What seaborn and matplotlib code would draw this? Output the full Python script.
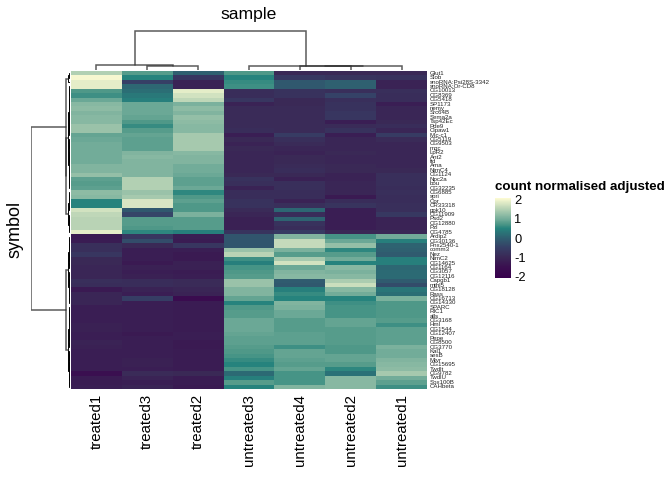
import numpy as np
import pandas as pd
import matplotlib
matplotlib.use('Agg')
import matplotlib.pyplot as plt
from matplotlib.colors import LinearSegmentedColormap, Normalize
from matplotlib.cm import ScalarMappable
import seaborn as sns

samples = ['treated1', 'treated3', 'treated2', 'untreated3', 'untreated4', 'untreated2', 'untreated1']

symbols = ['Glut1', 'Slob', 'snoRNA:Psi28S-3342', 'snoRNA:Or-CD8', 'CG10013', 'CG8369', 'CG5418', 'SP1173',
           'nemy', 'Src64B', 'Sema2a', 'Tsp42Ec', 'Pde9', 'Cipaw1', 'Mlc-c1', 'CG5119', 'CG9503', 'mgc',
           'LpR2', 'Ant2', 'fid', 'Ama', 'NimC4', 'CG1124', 'Npc2a', 'bou', 'CG32235', 'CG6885', 'spri',
           'Cpr', 'CR33318', 'ppk10', 'CG11909', 'Psd2', 'CG12880', 'Pzl', 'CG4785',
           'Ardip2', 'CG30136', 'Pnx2540-1', 'comm3', 'Nez', 'NimC2', 'CG14625', 'CG1164', 'CG3057',
           'CG12116', 'Capgb1', 'mthl5', 'CG18128', 'Rass', 'CG16713', 'CG14330', 'SPARC', 'RIC1', 'alls',
           'CG3168', 'Hml', 'CG1544', 'CG12407', 'Pepe', 'CG8500', 'CG3770', 'Kal1', 'sesB', 'Mtvr',
           'CG15695', 'Twdlt', 'CG9782', 'TwdlU', 'Sox100B', 'CAHbeta']

treated1 = [1.5, 2.05, 1.9, 1.9, .75, .65, .95, 1.15, 1.2, 1.1, 1.15, 1.15, 1.3, 1.3, .9, .95, 1.0, 1.0,
            1.0, 1.0, 1.0, 1.1, 1.1, 1.25, .85, .8, .85, 1.2, 1.15, .5, .5, 1.75, 1.6, 1.55, 1.55, 1.55, 1.9,
            -1.3, -1.25, -.85, -.85, -.7, -1.0, -1.0, -1.05, -1.05, -1.05, -.85, -.9, -1.3, -1.05, -1.05,
            -1.05, -1.2, -1.2, -1.2, -1.2, -1.15, -1.15, -1.2, -1.2, -1.1, -1.15, -1.2, -1.2, -1.2, -1.2,
            -1.2, -1.55, -1.25, -1.25, -1.2]
treated3 = [.8, .5, -.5, .1, .2, .35, .45, .95, .95, .95, .9, .75, .6, .8, .9, .85, .85, .85,
            1.1, 1.15, 1.1, 1.1, 1.1, 1.1, 1.5, 1.5, 1.5, 1.3, 1.4, 1.8, 1.8, -.1, -.4, .8, .8, .75, .55,
            -.7, -.3, -1.0, -1.2, -1.2, -1.2, -1.3, -1.15, -1.2, -1.15, -.9, -.9, -1.1, -1.2, -.55,
            -1.2, -1.2, -1.2, -1.2, -1.2, -1.2, -1.2, -1.3, -1.2, -1.2, -1.2, -1.2, -1.2, -1.15, -1.15,
            -1.2, -.95, -1.1, -1.2, -1.1]
treated2 = [0.0, -.7, -1.1, -1.1, 1.9, 1.75, 1.6, 1.05, 1.2, 1.1, 1.25, 1.2, 1.15, 1.15, 1.4, 1.4, 1.4, 1.4,
            1.15, 1.1, 1.1, 1.0, 1.0, .95, .85, .85, .95, .55, .75, .85, .75, .75, 1.05, .8, .8, .8, .45,
            -1.2, -1.25, -.7, -1.2, -1.3, -1.3, -1.15, -1.15, -1.25, -1.2, -.95, -.95, -1.05, -1.1, -1.65,
            -1.25, -1.25, -1.25, -1.25, -1.25, -1.25, -1.25, -1.2, -1.2, -1.3, -1.3, -1.25, -1.25, -1.25, -1.25,
            -1.25, -1.0, -1.25, -1.25, -1.3]
untreated3 = [.75, .5, .6, .65, -.9, -.9, -.7, -1.1, -.95, -.95, -.95, -.95, -.95, -.9, -1.2, -1.0, -1.1, -1.0,
              -1.05, -1.05, -1.05, -1.05, -1.05, -1.0, -.8, -.85, -1.1, -.9, -.9, -.8, -.8, -.95, -1.05, -1.15, -1.15, -1.15, -.75,
              -.15, -.15, -.15, 1.3, 1.55, .65, .45, .7, .75, .8, 1.3, 1.3, 1.1, 1.1, .9,
              .5, .75, .8, .8, .95, .95, .95, .9, .85, .85, .8, .75, .7, .6, .5,
              .7, .15, .45, .8, .5]
untreated4 = [-1.0, -.65, -.1, -.1, -.8, -.8, -1.0, -1.0, -.95, -.95, -.95, -.95, -.95, -.95, -.6, -.85, -.95, -1.05,
              -1.1, -1.0, -1.0, -.95, -.9, -1.0, -1.15, -.85, -.85, -.9, -.9, -1.1, -.85, .1, -.9, .05, -.8, -.9, -.6,
              1.1, 1.65, 1.65, 1.05, .8, 1.4, 1.75, .95, 1.1, 1.15, -.05, -.1, .45, .6, .5,
              1.1, 1.05, .95, .95, .8, .8, .8, .85, .85, .85, .65, .9, .9, .85, .8,
              .9, .7, .7, .7, 1.1]
untreated2 = [-1.0, -.75, 0.0, 0.0, -.85, -.45, -.85, -.8, -.8, -.7, -.7, -1.2, -.95, -.8, -1.2, -1.05, -1.05, -1.05,
              -1.0, -1.05, -1.05, -1.0, -1.0, -1.1, -1.1, -1.05, -1.05, -1.05, -1.3, -.9, -.75, -1.2, -1.2, -1.2, -1.2, -1.2, -1.0,
              .7, .95, 1.25, .55, .8, 1.0, .5, 1.15, 1.05, 1.15, 1.45, 1.7, 1.15, 1.0, .5,
              .65, .7, .7, .7, .9, .9, .8, .8, .8, .8, .75, .75, .9, .9, .8,
              .55, .25, 1.15, 1.15, 1.15]
untreated1 = [-1.0, -.8, -1.1, -1.1, -.85, -.9, -.9, -1.2, -1.05, -1.05, -1.05, -1.0, -.9, -1.05, -.6, -.95, -1.05, -1.05,
              -1.05, -1.05, -1.05, -1.05, -1.0, -.85, -.85, -.85, -.9, -.85, -.9, -.9, -.85, -.85, -.65, -1.1, -1.1, -1.1, -1.0,
              1.0, .45, .05, 0.0, -.05, .45, .45, .1, .15, .15, -.05, -.3, .3, .2, 1.05,
              .75, .75, .75, .75, .8, .65, .85, .85, .85, .85, 1.05, 1.0, 1.0, 1.1, 1.15,
              1.2, 1.4, 1.0, .85, .65]

# dendrograms: (height, left, right), a leaf is the position in the heatmap
col_tree = (.98, (.115, 0, (.1, 1, 2)), (.1, 3, (.105, (.095, 4, 5), 6)))
row_heights = [1.0, .09, .09]
fine_height = .028


def fine_tree(lo, hi, h):
    if lo == hi:
        return lo
    mid = (lo + hi) // 2
    return (h, fine_tree(lo, mid, h * .6), fine_tree(mid + 1, hi, h * .6))


def draw_tree(ax, node, vertical, **kw):
    if not isinstance(node, tuple):
        return node + .5, 0
    h, left, right = node
    p1, h1 = draw_tree(ax, left, vertical, **kw)
    p2, h2 = draw_tree(ax, right, vertical, **kw)
    small = h < .05
    style = dict(color='black', lw=.7, alpha=1) if small else kw
    if vertical:
        ax.plot([h1, h, h, h2], [p1, p1, p2, p2], solid_joinstyle='miter', **style)
    else:
        ax.plot([p1, p1, p2, p2], [h1, h, h, h2], solid_joinstyle='miter', **style)
    return (p1 + p2) / 2, h


row_tree = (row_heights[0],
            (row_heights[1], fine_tree(0, 2, fine_height), (row_heights[1] * .98, fine_tree(3, 26, fine_height), fine_tree(27, 36, fine_height))),
            (row_heights[2], fine_tree(37, 52, fine_height), fine_tree(53, 71, fine_height)))

df = pd.DataFrame({'treated1': treated1, 'treated3': treated3, 'treated2': treated2, 'untreated3': untreated3,
                   'untreated4': untreated4, 'untreated2': untreated2, 'untreated1': untreated1},
                  index=symbols)[samples]

sns.set_theme(style='white')
plt.rcParams['font.family'] = ['Liberation Sans', 'DejaVu Sans']

cmap = LinearSegmentedColormap.from_list('tealish', [
    (0.0, '#38004d'), (0.14, '#3a1050'), (0.26, '#3a2856'), (0.38, '#363f66'), (0.5, '#2f5f70'),
    (0.62, '#26837d'), (0.679, '#4f9888'), (0.74, '#74ad9a'), (0.86, '#b3d0b3'), (1.0, '#fdfbd3')])

W, H = 672, 480
fig = plt.figure(figsize=(W / 100, H / 100), dpi=100)


def box(x0, y0, x1, y1):
    return [x0 / W, 1 - y1 / H, (x1 - x0) / W, (y1 - y0) / H]


ax = fig.add_axes(box(71, 71, 427, 389))
sns.heatmap(df, ax=ax, cmap=cmap, vmin=-2.1, vmax=2.1, cbar=False, linewidths=0,
            xticklabels=True, yticklabels=True, rasterized=True)
ax.set_xlabel('')
ax.set_ylabel('')
ax.yaxis.tick_right()
ax.tick_params(axis='x', length=0, pad=3.5, labelsize=10.8, labelcolor='black')
ax.tick_params(axis='y', length=0, pad=2, labelsize=4.4, labelcolor='#222222')
plt.setp(ax.get_xticklabels(), rotation=90, ha='center', va='top')
plt.setp(ax.get_yticklabels(), rotation=0, va='center')

top = fig.add_axes(box(71, 30, 427, 70))
draw_tree(top, col_tree, False, color='#333333', lw=1.1, alpha=.8)
top.set_xlim(0, len(samples))
top.set_ylim(0, 1)
top.axis('off')

left = fig.add_axes(box(30.5, 71, 69.5, 389))
draw_tree(left, row_tree, True, color='#333333', lw=1.1, alpha=.8)
left.set_ylim(len(symbols), 0)
left.set_xlim(1, 0)
left.axis('off')

fig.text(249 / W, 1 - 14.5 / H, 'sample', fontsize=12.6, ha='center', va='center', color='black')
fig.text(15.5 / W, 1 - 229 / H, 'symbol', fontsize=13, ha='center', va='center', rotation=90, color='black')

cax = fig.add_axes(box(495, 198, 511, 278))
cb = fig.colorbar(ScalarMappable(norm=Normalize(-2.1, 2.1), cmap=cmap), cax=cax)
cb.set_ticks([-2, -1, 0, 1, 2])
cb.set_ticklabels(['-2', '-1', '0', '1', '2'])
cb.outline.set_visible(False)
cax.tick_params(axis='y', left=True, right=True, direction='in', color='white', length=2.4, width=.7,
                labelsize=9.3, pad=2.5, labelcolor='black')
fig.text(495 / W, 1 - 187 / H, 'count normalised adjusted', fontsize=9.6, fontweight='bold',
         ha='left', va='center', color='black')

fig.savefig('out.png', dpi=100)
